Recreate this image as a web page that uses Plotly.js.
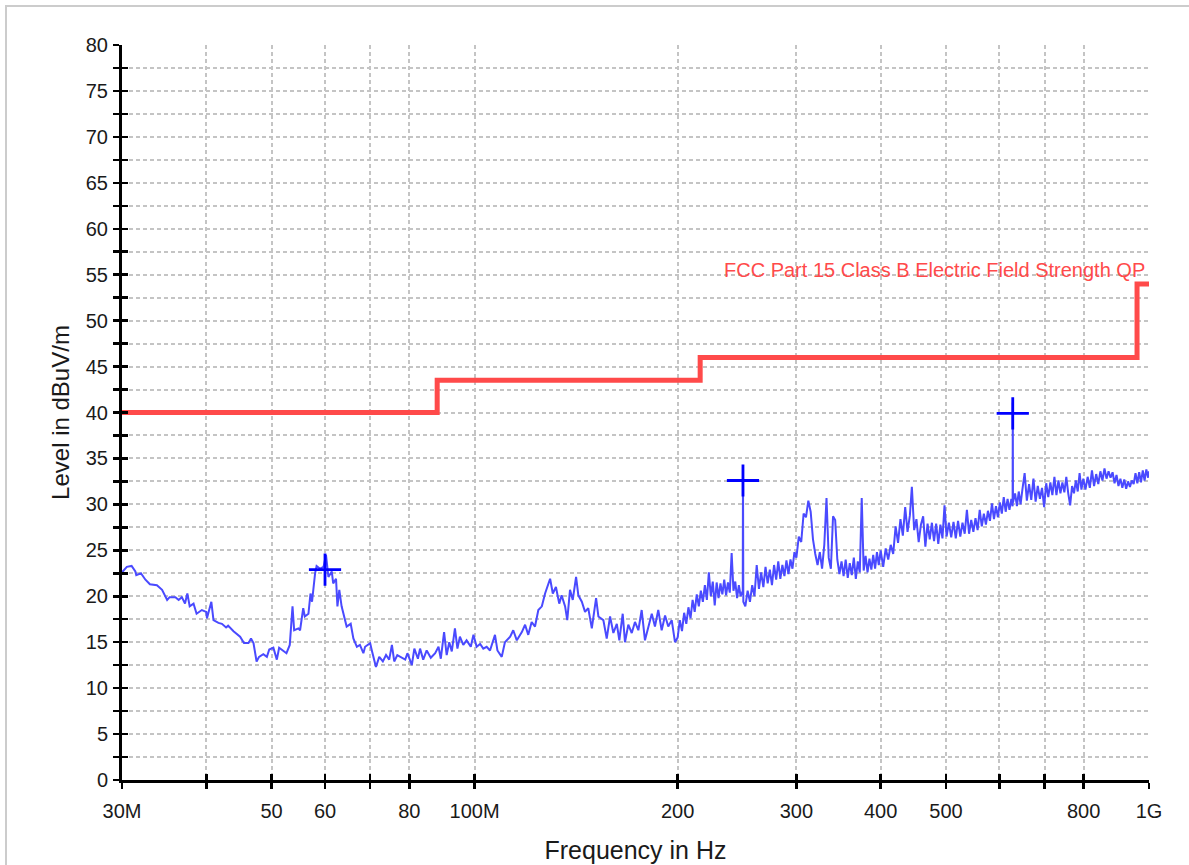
<!DOCTYPE html>
<html>
<head>
<meta charset="utf-8">
<script src="https://cdn.plot.ly/plotly-3.0.1.min.js"></script>
<style>
  html, body { margin: 0; padding: 0; background: #ffffff; }
  #frame { position: absolute; left: 5px; top: 5px; width: 1400px; height: 1000px; border: 2px solid #cccccc; box-sizing: border-box; }
  #chart { position: absolute; left: 0; top: 0; width: 1189px; height: 865px; }
</style>
</head>
<body>
<div id="frame"></div>
<div id="chart"></div>
<script>
// Measured spectrum (frequency in MHz, level in dBuV/m)
const freqMHz = [
30.0,30.5,31.0,31.4,31.5,32.0,32.5,33.0,33.8,34.4,35.0,35.3,36.0,36.4,36.8,37.2,37.5,37.8,38.3,38.7,
39.4,40.0,40.1,40.7,41.0,41.7,42.2,42.8,43.1,43.9,44.9,45.5,46.2,46.6,47.0,47.5,47.9,48.6,49.2,49.6,
50.3,50.9,51.3,51.9,52.6,53.2,53.7,54.0,54.8,55.1,55.7,56.0,56.7,57.1,57.4,58.0,58.3,59.0,59.7,60.2,
60.7,61.4,61.7,62.3,62.6,63.0,63.5,64.6,65.5,66.1,66.9,67.6,68.4,68.8,70.0,70.4,71.4,72.2,73.1,73.9,
74.7,75.4,76.0,76.8,77.5,78.9,79.5,80.7,81.4,82.4,83.0,83.9,84.9,86.1,87.4,88.4,89.1,90.1,90.9,91.7,
92.5,93.5,94.3,95.1,96.2,97.3,98.7,99.6,100.7,101.9,103.0,104.2,105.4,107.2,108.1,109.7,110.9,112.9,114.1,115.5,
117.5,118.8,120.1,121.5,122.9,124.3,125.8,127.2,129.4,130.6,132.0,133.5,134.6,136.2,137.2,138.5,139.8,141.4,142.5,144.2,
145.8,147.4,149.2,151.4,152.6,155.2,157.0,158.8,160.6,162.5,163.9,165.8,167.1,169.0,171.0,172.9,174.9,176.9,178.9,181.0,
183.1,185.1,187.2,189.4,191.6,193.7,196.0,198.2,
200,201.5,203,204.5,206,207.5,209,210.5,212,213.5,215,216.5,218,219.5,221,222.5,224,225.5,227,228.5,
230,231.5,233,234.5,236,237.5,239,240.5,242,243.5,245,246.5,248,249.8,250,250.3,
252,254,256,258,260,262,264,266,268,270,272,274,276,278,280,282,284,286,288,290,292,294,296,298,300,
302.5,305,307.5,310,312.5,315,317.5,320,322.5,325,327.5,330,332.5,335,337.5,340,342.5,345,347.5,350,
352.5,355,357.5,360,362.5,365,367.5,370,372.5,375,377.5,380,382.5,385,387.5,390,392.5,395,397.5,400,
403.5,407,410.5,414,417.5,421,424.5,428,431.5,435,438.5,442,445,448.5,452,455.5,459,462.5,466,469.5,
473,476.5,480,483.5,487,490.5,494,497.5,501,
505,509,513,517,521,525,529,533,537,541,545,549,553,557,561,565,569,573,577,581,
585,589,593,597,601,605,609,613,617,621,625,627.7,628.1,628.5,633,637,641,645,649,
654,659,664,669,674,679,684,689,694,699,704,709,714,719,724,729,734,739,744,749,
754,759,764,769,774,779,784,789,794,799,
805,811,817,823,829,835,841,847,853,859,865,871,877,883,889,895,901,907,913,919,
925,931,937,943,949,955,961,967,973,979,985,991,997,1000
];
const levelDb = [
22.6,23.2,23.3,22.7,22.3,22.5,21.8,21.3,21.2,20.7,19.6,19.9,19.9,19.6,19.9,19.2,20.3,18.9,19.2,18.1,
18.5,18.3,17.6,19.4,17.4,17.1,17.0,16.6,16.8,16.2,15.6,14.9,14.9,15.4,14.9,12.9,13.4,13.7,13.4,14.2,
14.4,13.1,14.4,14.1,13.8,14.7,18.9,16.3,16.5,16.3,18.7,17.8,18.1,20.3,19.4,22.5,23.3,23.0,23.2,24.5,
22.1,22.7,21.4,21.9,18.9,20.7,18.9,16.7,17.0,15.4,14.5,14.7,13.8,14.5,14.9,14.1,12.3,13.4,12.9,13.6,
13.1,14.7,12.9,13.6,13.4,13.1,13.8,12.5,14.3,13.2,14.3,13.1,14.1,13.3,13.8,14.5,13.2,16.1,13.6,15.0,
14.0,16.5,14.3,15.6,14.7,15.2,14.5,15.8,14.5,14.8,14.3,14.5,14.1,15.8,14.1,13.4,15.0,15.6,16.3,15.2,
16.1,16.9,15.8,17.2,16.7,18.5,18.9,20.3,21.9,20.3,21.0,19.2,20.1,18.9,17.4,20.7,19.6,22.1,20.1,19.4,
18.3,18.7,16.5,19.8,17.8,17.4,15.4,17.8,16.0,17.0,15.2,18.1,15.0,16.9,16.0,17.2,16.3,18.5,15.2,16.7,
18.1,16.7,18.5,16.3,17.9,16.7,17.4,15.0,
15.5,17.4,16.2,18.2,17.0,18.8,17.6,19.6,18.3,20.2,18.9,20.6,19.4,21.2,19.6,22.6,20.0,21.6,19.0,21.5,
19.8,21.4,20.2,21.8,20.1,21.5,20.4,24.7,20.6,21.6,19.8,21.2,20.0,20.6,34.1,19.4,
18.9,20.6,19.4,21.2,20.0,23.4,20.8,22.6,21.0,23.2,21.4,22.9,21.2,23.4,21.8,23.8,21.9,23.4,22.2,23.9,22.4,24.0,23.0,24.8,24.2,
26.5,25.9,29.0,28.6,30.4,29.2,26.2,24.6,23.4,24.8,23.0,25.6,30.7,24.2,23.0,28.7,28.3,24.0,22.4,23.8,
22.2,24.0,22.0,23.6,22.3,24.2,21.9,23.8,22.6,30.7,22.8,24.4,22.6,24.1,22.9,24.5,23.0,24.8,23.4,25.0,
23.2,25.2,24.0,25.6,24.6,27.6,25.8,28.4,26.6,29.7,27.0,28.8,31.9,27.2,28.4,25.9,27.8,28.7,25.4,27.9,
26.2,28.0,26.0,27.9,25.7,27.8,26.3,29.9,26.5,
28.0,26.4,28.1,26.3,28.2,26.5,28.0,26.8,29.4,26.8,28.3,27.0,28.5,27.2,29.4,27.6,29.0,27.8,29.3,28.2,
30.1,28.4,29.8,28.6,30.2,29.0,30.8,29.2,30.6,29.4,30.6,29.8,41.1,30.2,31.2,29.8,31.4,30.0,31.6,
33.4,30.4,32.2,30.5,32.8,30.3,32.0,30.6,31.8,29.7,32.3,30.8,32.4,31.0,33.0,31.0,32.6,31.2,32.4,31.3,
33.0,31.2,29.9,32.0,31.2,32.6,31.4,33.4,31.6,32.8,
31.6,33.0,31.8,33.7,32.0,33.3,32.2,33.6,32.6,33.9,32.8,33.6,32.9,33.5,32.3,33.2,32.0,32.8,31.8,32.7,
31.7,32.5,31.9,32.6,32.2,33.4,32.3,33.5,32.4,33.7,32.6,33.8,32.9,33.6
];

// FCC Part 15 Class B QP limit
const limitMHz = [30, 88, 88, 216, 216, 960, 960, 1000];
const limitDb  = [40, 40, 43.5, 43.5, 46, 46, 54, 54];
const limitName = "FCC Part 15 Class B Electric Field Strength QP";

// Peak markers
const markMHz = [60, 250, 628];
const markDb  = [22.9, 32.6, 39.9];

// Axis ticks
const xTickMHz  = [30, 40, 50, 60, 70, 80, 100, 200, 300, 400, 500, 600, 700, 800, 1000];
const xTickText = ["30M", "", "50", "60", "", "80", "100M", "200", "300", "400", "500", "", "", "800", "1G"];
const yTickVals = [0,2.5,5,7.5,10,12.5,15,17.5,20,22.5,25,27.5,30,32.5,35,37.5,40,42.5,45,47.5,50,52.5,55,57.5,60,62.5,65,67.5,70,72.5,75,77.5,80];
const yTickText = yTickVals.map(v => (v % 5 === 0 ? String(v) : ""));

const toHz = a => a.map(v => v * 1e6);
const FONT = "Liberation Sans, Arial, sans-serif";

const traces = [
  { x: toHz(freqMHz), y: levelDb, type: "scatter", mode: "lines",
    line: { color: "#4a4aff", width: 2 }, hoverinfo: "skip", showlegend: false },
  { x: toHz(limitMHz), y: limitDb, type: "scatter", mode: "lines",
    line: { color: "#ff4a4a", width: 5 }, hoverinfo: "skip", showlegend: false },
  { x: toHz(markMHz), y: markDb, type: "scatter", mode: "markers",
    marker: { symbol: "cross-thin", size: 23, color: "#0000ff", line: { color: "#0000ff", width: 2.8 } },
    hoverinfo: "skip", showlegend: false },
  { x: [], y: [], xaxis: "x2", yaxis: "y2", type: "scatter", mode: "lines", showlegend: false, hoverinfo: "skip" }
];

const xr = [Math.log10(30e6), Math.log10(1e9)];
const common = { showline: true, linecolor: "#000", linewidth: 3, tickcolor: "#000", tickwidth: 2.5, ticklen: 6, zeroline: false };

const layout = {
  width: 1189, height: 865,
  margin: { l: 122, r: 40, t: 45, b: 85 },
  paper_bgcolor: "rgba(0,0,0,0)", plot_bgcolor: "rgba(0,0,0,0)",
  font: { family: FONT, size: 18, color: "#1a1a1a" },
  showlegend: false,
  xaxis: Object.assign({}, common, {
    type: "log", range: xr, tickmode: "array", tickvals: toHz(xTickMHz), ticktext: xTickText,
    ticks: "outside", showgrid: true, gridcolor: "#c4c4c4", gridwidth: 2, griddash: "4px,3px",
    tickfont: { size: 20, color: "#1a1a1a" }, ticklabelstandoff: 5,
    title: { text: "Frequency in Hz", font: { size: 25, color: "#1a1a1a" }, standoff: 21 }
  }),
  yaxis: Object.assign({}, common, {
    range: [0, 80], tickmode: "array", tickvals: yTickVals, ticktext: yTickText,
    ticks: "outside", showgrid: true, gridcolor: "#c4c4c4", gridwidth: 2, griddash: "4px,3px",
    tickfont: { size: 20, color: "#1a1a1a" }, ticklabelstandoff: 1,
    title: { text: "Level in dBuV/m", font: { size: 24, color: "#1a1a1a" }, standoff: 10 }
  }),
  xaxis2: Object.assign({}, common, {
    type: "log", range: xr, overlaying: "x", anchor: "y2", tickmode: "array", tickvals: toHz(xTickMHz),
    ticks: "inside", showticklabels: false, showgrid: false
  }),
  yaxis2: Object.assign({}, common, {
    range: [0, 80], overlaying: "y", anchor: "x2", tickmode: "array", tickvals: yTickVals,
    ticks: "inside", showticklabels: false, showgrid: false
  }),
  annotations: [{
    x: Math.log10(1e9), y: 54, xref: "x", yref: "y", xanchor: "right", yanchor: "bottom",
    text: limitName, showarrow: false, yshift: 1, xshift: -2,
    font: { family: FONT, size: 20, color: "#ff4a4a" }
  }]
};

Plotly.newPlot("chart", traces, layout, { staticPlot: true, displayModeBar: false });
</script>
</body>
</html>
